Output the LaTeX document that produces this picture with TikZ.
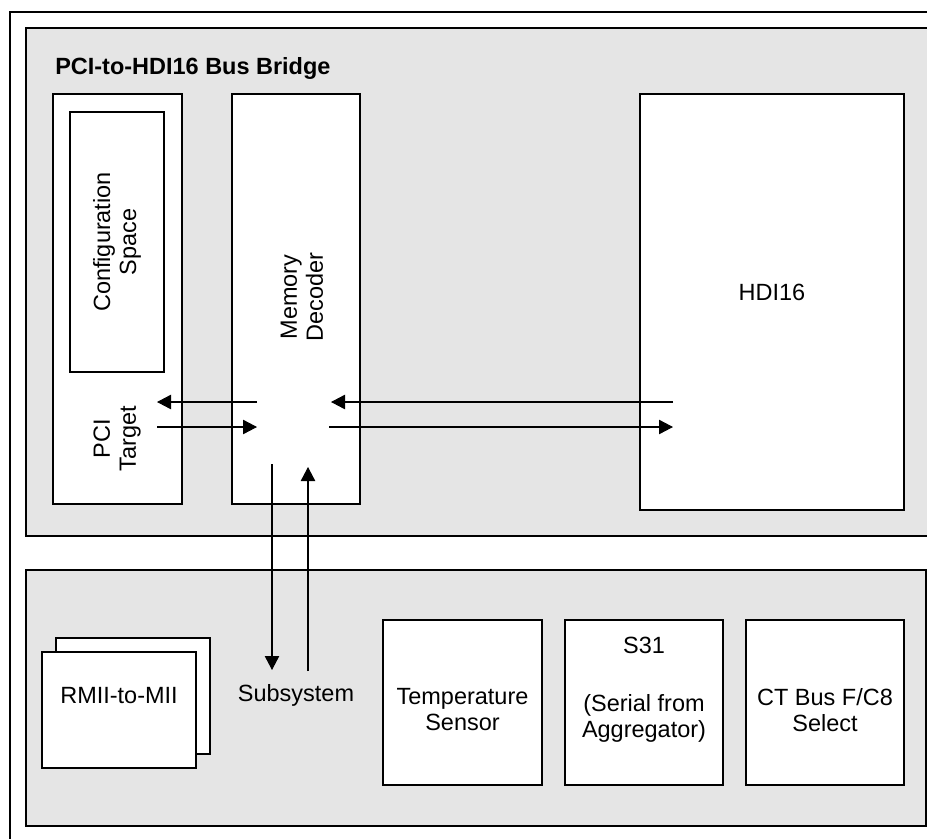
\documentclass[tikz,border=0pt]{standalone}
\usepackage{fontspec}
\setmainfont{Liberation Sans}
\usepackage{xcolor}
\usetikzlibrary{arrows.meta,positioning}
\definecolor{bridgeGray}{RGB}{229,229,229}
\definecolor{bridgeInk}{RGB}{0,0,0}
\tikzset{
  bridgepanel/.style={draw=bridgeInk,line width=1.2pt,fill=bridgeGray},
  bridgebox/.style={draw=bridgeInk,line width=1.1pt,fill=white,inner sep=0pt},
  bridgetext/.style={font=\fontsize{16.7}{18.5}\selectfont,text=bridgeInk,align=center,inner sep=0pt},
  bridgetitle/.style={font=\bfseries\fontsize{16.7}{18.5}\selectfont,text=bridgeInk,anchor=base west,inner sep=0pt},
  bridgeflow/.style={-{Triangle[length=0.35cm,width=0.36cm]},draw=bridgeInk,line width=0.75pt},
}

\begin{document}
\begin{tikzpicture}[x=1cm,y=-1cm]
\useasboundingbox (0,0) rectangle (23.175,20.95);
\clip (0,0) rectangle (23.175,20.95);
\fill[white] (0,0) rectangle (23.175,20.95);

% Frames.
\draw[draw=bridgeInk,line width=1.2pt] (0.25,0.30) rectangle (23.60,21.40);
\draw[bridgepanel] (0.65,0.70) rectangle (23.30,13.40);
\draw[bridgepanel] (0.65,14.25) rectangle (23.15,20.65);

% Upper panel: bus bridge.
\node[bridgetitle] (title) at (1.375,1.85) {PCI-to-HDI16 Bus Bridge};
\node[bridgebox,minimum width=3.225cm,minimum height=10.25cm] (pci) at (2.9375,7.475) {};
\node[bridgebox,bridgetext,rotate=90,minimum width=6.5cm,minimum height=2.35cm,draw=bridgeInk,line width=1.1pt,fill=white] (config) at (2.925,6.05) {Configuration\\Space};
\node[bridgetext,rotate=90] (pcilab) at (2.925,10.975) {PCI\\Target};
\node[bridgebox,minimum width=3.2cm,minimum height=10.25cm] (memdec) at (7.40,7.475) {};
\node[bridgetext,rotate=90] (memlab) at (7.55,7.425) {Memory\\Decoder};
\node[bridgebox,minimum width=6.6cm,minimum height=10.4cm] (hdi) at (19.30,7.55) {};
\node[bridgetext] (hdilab) at (19.30,7.30) {HDI16};

% Connector ends inside the boxes.
\coordinate (pciOut) at (3.925,10.05);
\coordinate (pciIn) at (3.925,10.675);
\coordinate (memW1) at (6.425,10.05);
\coordinate (memW2) at (6.425,10.675);
\coordinate (memE1) at (8.275,10.05);
\coordinate (memE2) at (8.225,10.675);
\coordinate (hdiW1) at (16.825,10.05);
\coordinate (hdiW2) at (16.825,10.675);
\coordinate (memS1) at (6.80,11.60);
\coordinate (memS2) at (7.70,11.675);
\coordinate (subN1) at (6.80,16.75);
\coordinate (subN2) at (7.70,16.775);

\draw[bridgeflow] (memW1) -- (pciOut);
\draw[bridgeflow] (pciIn) -- (memW2);
\draw[bridgeflow] (hdiW1) -- (memE1);
\draw[bridgeflow] (memE2) -- (hdiW2);
\draw[bridgeflow] (memS1) -- (subN1);
\draw[bridgeflow] (subN2) -- (memS2);

% Lower panel: subsystem.
\node[bridgetext] (subsys) at (7.40,17.375) {Subsystem};
\node[bridgebox,minimum width=3.85cm,minimum height=2.9cm] (rmiiback) at (3.325,17.40) {};
\node[bridgebox,minimum width=3.85cm,minimum height=2.9cm] (rmii) at (2.975,17.75) {};
\node[bridgetext] (rmiilab) at (2.975,17.40) {RMII-to-MII};
\node[bridgebox,minimum width=3.975cm,minimum height=4.125cm] (temp) at (11.5625,17.5625) {};
\node[bridgetext] (templab) at (11.5625,17.75) {Temperature\\Sensor};
\node[bridgebox,minimum width=3.95cm,minimum height=4.125cm] (sthree) at (16.10,17.5625) {};
\node[bridgetext] (sthreelab) at (16.10,16.125) {S31};
\node[bridgetext] (seriallab) at (16.10,17.96) {(Serial from\\Aggregator)};
\node[bridgebox,minimum width=3.95cm,minimum height=4.125cm] (ctbus) at (20.625,17.5625) {};
\node[bridgetext] (ctlab) at (20.625,17.75) {CT Bus F/C8\\Select};
\end{tikzpicture}
\end{document}
